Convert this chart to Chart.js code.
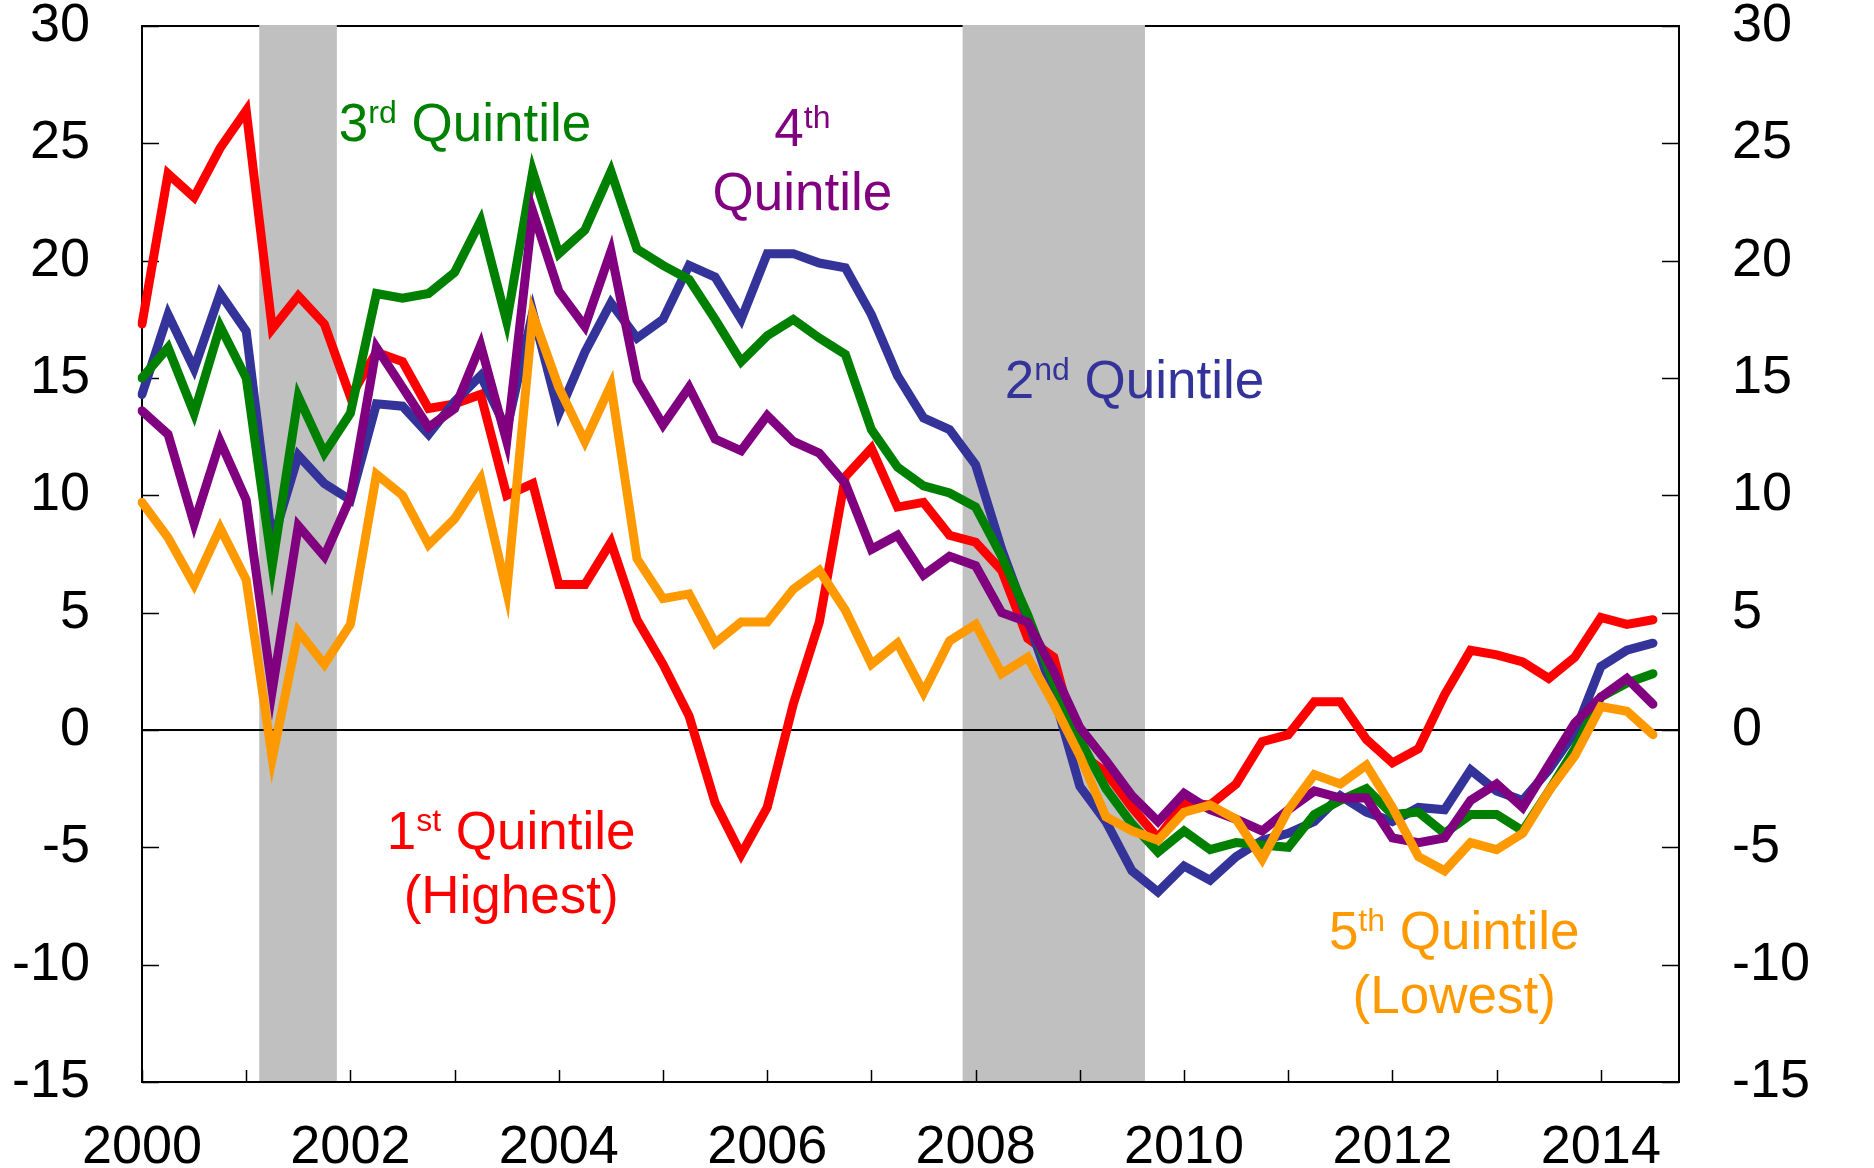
<!DOCTYPE html>
<html>
<head>
<meta charset="utf-8">
<script src="https://cdn.jsdelivr.net/npm/chart.js@4.4.1/dist/chart.umd.min.js"></script>
<style>
  html, body { margin: 0; padding: 0; background: #fff; }
</style>
</head>
<body>
<canvas id="chart" width="1874" height="1168"></canvas>
<script>
// quarterly categories 2000Q1 .. 2014Q4, data runs to 2014Q3
const years = [2000, 2001, 2002, 2003, 2004, 2005, 2006, 2007, 2008, 2009, 2010, 2011, 2012, 2013, 2014];
const quarters = years.flatMap((y) => ['Q1', 'Q2', 'Q3', 'Q4'].map((q) => `${y}${q}`));
const yearLabels = ['2000', '2002', '2004', '2006', '2008', '2010', '2012', '2014'];
const yTicks = [-15, -10, -5, 0, 5, 10, 15, 20, 25, 30];

// recession periods (decimal years)
const recessions = [[2001.125, 2001.87], [2007.875, 2009.625]];

const q1Highest = [17.3, 23.7, 22.7, 24.8, 26.4, 17.1, 18.5, 17.3, 14.2, 16.1, 15.7, 13.7, 13.9, 14.3, 10.0,
  10.5, 6.2, 6.2, 8.0, 4.7, 2.8, 0.6, -3.1, -5.3, -3.3, 1.1, 4.6, 10.8, 12.0, 9.5, 9.7, 8.3, 8.0, 6.8, 3.9,
  3.1, -1.0, -1.8, -3.3, -4.6, -3.1, -3.2, -2.3, -0.5, -0.2, 1.2, 1.2, -0.4, -1.4, -0.8, 1.5, 3.4, 3.2, 2.9,
  2.2, 3.1, 4.8, 4.5, 4.7];
const q2 = [14.3, 17.7, 15.4, 18.6, 17.0, 8.0, 11.7, 10.5, 9.8, 13.9, 13.8, 12.6, 14.0, 15.1, 12.8, 17.8,
  13.5, 16.1, 18.2, 16.7, 17.5, 19.8, 19.3, 17.5, 20.3, 20.3, 19.9, 19.7, 17.7, 15.1, 13.3, 12.8, 11.3, 7.7,
  4.7, 1.5, -2.4, -3.9, -6.0, -6.9, -5.8, -6.4, -5.4, -4.7, -4.4, -3.9, -2.8, -3.5, -3.9, -3.3, -3.4, -1.7,
  -2.6, -3.0, -1.7, -0.1, 2.7, 3.4, 3.7];
const q3 = [15.0, 16.3, 13.5, 17.2, 15.0, 7.0, 14.2, 11.8, 13.5, 18.6, 18.4, 18.6, 19.5, 21.7, 17.4, 23.8,
  20.3, 21.3, 23.8, 20.5, 19.8, 19.2, 17.5, 15.7, 16.8, 17.5, 16.7, 16.0, 12.8, 11.2, 10.4, 10.1, 9.5, 7.4,
  4.9, 2.0, -0.4, -2.5, -4.0, -5.2, -4.3, -5.1, -4.8, -4.9, -5.0, -3.6, -3.0, -2.5, -3.6, -3.5, -4.4, -3.6,
  -3.6, -4.3, -2.6, -0.8, 1.4, 2.0, 2.4];
const q4 = [13.6, 12.6, 8.8, 12.3, 9.8, 1.7, 8.7, 7.4, 9.9, 16.3, 14.6, 12.9, 13.7, 16.4, 12.3, 22.1, 18.7,
  17.2, 20.4, 14.9, 13.0, 14.6, 12.4, 11.9, 13.4, 12.3, 11.8, 10.5, 7.7, 8.3, 6.6, 7.4, 7.0, 5.0, 4.6, 2.5,
  0.1, -1.3, -2.8, -3.9, -2.7, -3.4, -3.8, -4.3, -3.4, -2.6, -2.9, -2.9, -4.6, -4.8, -4.6, -3.0, -2.3, -3.3,
  -1.5, 0.3, 1.4, 2.2, 1.1];
const q5Lowest = [9.7, 8.2, 6.2, 8.6, 6.4, -1.2, 4.2, 2.8, 4.5, 10.9, 10.0, 7.9, 9.0, 10.7, 5.9, 17.7, 14.6,
  12.3, 14.7, 7.3, 5.6, 5.8, 3.7, 4.6, 4.6, 6.0, 6.8, 5.1, 2.8, 3.7, 1.6, 3.8, 4.5, 2.4, 3.1, 1.1, -1.1,
  -3.7, -4.3, -4.7, -3.5, -3.2, -3.8, -5.5, -3.4, -1.9, -2.3, -1.5, -3.3, -5.4, -6.0, -4.8, -5.1, -4.4,
  -2.6, -1.1, 1.0, 0.8, -0.2];

const FONT = "'Liberation Sans', Arial, sans-serif";
const tickFont = { family: FONT, size: 54 };

// in-chart series labels, anchored at (category index, value)
const seriesLabels = [
  { color: '#008000', at: [12.4, 25.1], lines: [[['3', false], ['rd', true], [' Quintile', false]]] },
  { color: '#800080', at: [25.35, 24.9], lines: [[['4', false], ['th', true]], [['Quintile', false]]] },
  { color: '#333399', at: [38.1, 14.15], lines: [[['2', false], ['nd', true], [' Quintile', false]]] },
  { color: '#FF0000', at: [14.17, -5.07], lines: [[['1', false], ['st', true], [' Quintile', false]], [['(Highest)', false]]] },
  { color: '#FF9900', at: [50.37, -9.32], lines: [[['5', false], ['th', true], [' Quintile', false]], [['(Lowest)', false]]] }
];

const frame = {
  id: 'frame',
  beforeDatasetsDraw(chart) {
    const { ctx, chartArea: a, scales } = chart;
    const x = scales.x;
    const y = scales.y;
    ctx.save();
    ctx.strokeStyle = '#000';
    ctx.lineWidth = 2;
    ctx.beginPath();
    ctx.moveTo(a.left, a.top);
    ctx.lineTo(a.right, a.top);
    ctx.stroke();

    ctx.fillStyle = '#C0C0C0';
    recessions.forEach(([s, e]) => {
      const x0 = x.getPixelForValue((s - 2000) * 4);
      const x1 = x.getPixelForValue((e - 2000) * 4);
      ctx.fillRect(x0, a.top - 1, x1 - x0, a.bottom - a.top + 1);
    });

    ctx.beginPath();
    ctx.moveTo(a.left, a.top - 1);
    ctx.lineTo(a.left, a.bottom);
    ctx.lineTo(a.right, a.bottom);
    ctx.lineTo(a.right, a.top - 1);
    ctx.stroke();

    // inner ticks
    ctx.beginPath();
    yTicks.forEach((v) => {
      const py = Math.round(y.getPixelForValue(v)) + 0.5;
      ctx.moveTo(a.left, py);
      ctx.lineTo(a.left + 17, py);
      ctx.moveTo(a.right, py);
      ctx.lineTo(a.right - 17, py);
    });
    quarters.forEach((q, i) => {
      if (!q.endsWith('Q1')) return;
      const px = Math.round(x.getPixelForValue(i)) + 0.5;
      ctx.moveTo(px, a.bottom);
      ctx.lineTo(px, a.bottom - 12);
    });
    ctx.lineWidth = 1.5;
    ctx.stroke();

    // zero line
    const y0 = y.getPixelForValue(0);
    ctx.lineWidth = 2;
    ctx.beginPath();
    ctx.moveTo(a.left, y0);
    ctx.lineTo(a.right, y0);
    ctx.stroke();
    ctx.restore();
  },
  afterDraw(chart) {
    const { ctx, scales } = chart;
    const size = 53;
    const supSize = 32;
    ctx.save();
    ctx.textBaseline = 'alphabetic';
    ctx.textAlign = 'left';
    seriesLabels.forEach((lab) => {
      const cx = scales.x.getPixelForValue(lab.at[0]);
      const by = scales.y.getPixelForValue(lab.at[1]);
      ctx.fillStyle = lab.color;
      lab.lines.forEach((parts, li) => {
        let w = 0;
        parts.forEach(([t, sup]) => {
          ctx.font = `${sup ? supSize : size}px ${FONT}`;
          w += ctx.measureText(t).width;
        });
        let px = cx - w / 2;
        const py = by + li * 64;
        parts.forEach(([t, sup]) => {
          ctx.font = `${sup ? supSize : size}px ${FONT}`;
          ctx.fillText(t, px, sup ? py - 18 : py);
          px += ctx.measureText(t).width;
        });
      });
    });
    ctx.restore();
  }
};

const yAxis = (position, pad, width) => ({
  position,
  min: -15,
  max: 30,
  ticks: { stepSize: 5, padding: pad, color: '#000', font: tickFont },
  grid: { display: false, drawTicks: false },
  border: { display: false },
  afterFit: (s) => {
    s.width = width;
    s.paddingTop = 0;
    s.paddingBottom = 0;
  }
});

const line = (label, data, color, order) => ({
  label, data, borderColor: color, backgroundColor: color, borderWidth: 9,
  pointRadius: 0, tension: 0, borderCapStyle: 'round', order
});

new Chart(document.getElementById('chart'), {
  type: 'line',
  data: {
    labels: quarters,
    datasets: [
      line('1st Quintile (Highest)', q1Highest, '#FF0000', 5),
      line('2nd Quintile', q2, '#333399', 4),
      line('3rd Quintile', q3, '#008000', 3),
      line('4th Quintile', q4, '#800080', 2),
      line('5th Quintile (Lowest)', q5Lowest, '#FF9900', 1)
    ]
  },
  options: {
    responsive: false,
    devicePixelRatio: 1,
    animation: false,
    layout: { padding: { top: 26, left: 0, right: 0, bottom: 0 } },
    plugins: { legend: { display: false }, tooltip: { enabled: false } },
    scales: {
      x: {
        type: 'category',
        offset: false,
        grid: { display: false, drawTicks: false },
        border: { display: false },
        ticks: {
          autoSkip: false,
          maxRotation: 0,
          padding: 34,
          color: '#000',
          font: tickFont,
          callback: (v, i) => {
            const yr = quarters[i].slice(0, 4);
            return quarters[i].endsWith('Q1') && yearLabels.includes(yr) ? yr : '';
          }
        },
        afterFit: (s) => {
          s.height = 86;
          s.paddingLeft = 0;
          s.paddingRight = 0;
        }
      },
      y: yAxis('left', 52, 142),
      y2: yAxis('right', 53, 195)
    }
  },
  plugins: [frame]
});
</script>
</body>
</html>
